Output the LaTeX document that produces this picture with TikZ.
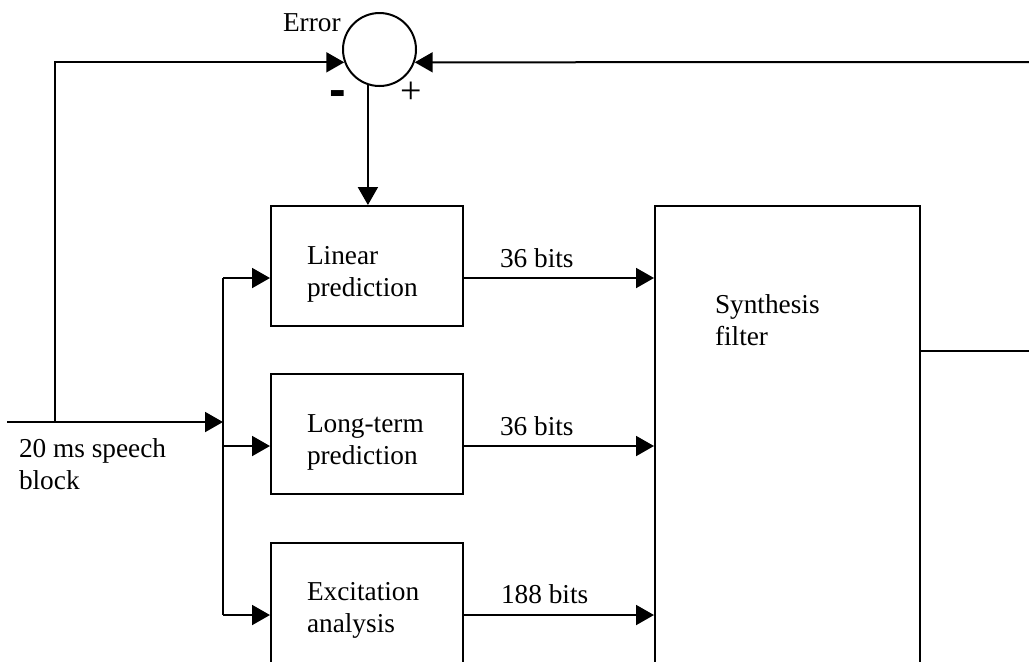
\documentclass[tikz,border=0pt]{standalone}
\usepackage{fontspec}
\setmainfont{Liberation Serif}
\newfontfamily\signfont{Liberation Sans}
\usepackage{tikz}
\usetikzlibrary{arrows.meta,positioning,calc}

\begin{document}
\begin{tikzpicture}[x=0.5pt,y=-0.5pt,line width=1pt,
    >={Triangle[length=9pt,width=10pt]},
    blk/.style={draw,inner sep=0pt,minimum width=96pt,minimum height=60pt},
    txt/.style={anchor=north west,inner sep=0pt,align=left,font=\fontsize{13.65}{16}\selectfont}]
    \useasboundingbox (0,0) rectangle (1029,661);
    \clip (0,0) rectangle (1029,661);
    % summing point
    \node[draw,circle,inner sep=0pt,minimum size=36.5pt] (err) at (379.5,49.5) {};
    \node[txt] (errlbl) at (282,13) {Error};
    \node[font=\signfont\bfseries\fontsize{25}{25}\selectfont,inner sep=0pt] (minus) at (337.5,99) {-};
    \node[font=\fontsize{19}{19}\selectfont,inner sep=0pt] (plus) at (411,93) {+};
    % analysis blocks
    \node[blk] (lp) at (367,266) {};
    \node[blk] (ltp) at (367,434) {};
    \node[blk] (exc) at (367,603) {};
    \node[draw,inner sep=0pt,minimum width=132.5pt,minimum height=277pt] (syn) at (787.5,483) {};
    \node[txt] (lptxt) at (306,245.5) {Linear\\prediction};
    \node[txt] (ltptxt) at (306,413.5) {Long-term\\prediction};
    \node[txt] (exctxt) at (306,581.5) {Excitation\\analysis};
    \node[txt] (syntxt) at (714,293.5) {Synthesis\\filter};
    \node[txt] (intxt) at (18,437.5) {20 ms speech\\block};
    % input and bus
    \coordinate (in) at (7,422);
    \coordinate (fb) at (55,422);
    \coordinate (bus) at (223,422);
    \coordinate (lpin) at ($(lp.west)+(0,12)$);
    \coordinate (ltpin) at ($(ltp.west)+(0,12)$);
    \coordinate (excin) at ($(exc.west)+(0,12)$);
    \draw[->] (in) -- (bus);
    \draw (bus |- lpin) -- (bus |- excin);
    \draw[->] (bus |- lpin) -- (lpin);
    \draw[->] (bus |- ltpin) -- (ltpin);
    \draw[->] (bus |- excin) -- (excin);
    % parameters to synthesis filter
    \coordinate (lpout) at ($(lp.east)+(0,12)$);
    \coordinate (ltpout) at ($(ltp.east)+(0,12)$);
    \coordinate (excout) at ($(exc.east)+(0,12)$);
    \draw[->] (lpout) -- (lpout -| syn.west);
    \draw[->] (ltpout) -- (ltpout -| syn.west);
    \draw[->] (excout) -- (excout -| syn.west);
    \node[txt] (lpbits) at (499,247.5) {36 bits};
    \node[txt] (ltpbits) at (499,415.5) {36 bits};
    \node[txt] (excbits) at (500,583.5) {188 bits};
    % feedback loop
    \coordinate (synout) at (920,351);
    \coordinate (synend) at (1029,351);
    \coordinate (back) at (1029,62);
    \draw (synout) -- (synend);
    \draw[->] (back) -- (err.340);
    \draw[->] (fb) |- (err.200);
    \draw[->] (err.252) -- (err.252 |- lp.north);
\end{tikzpicture}
\end{document}
